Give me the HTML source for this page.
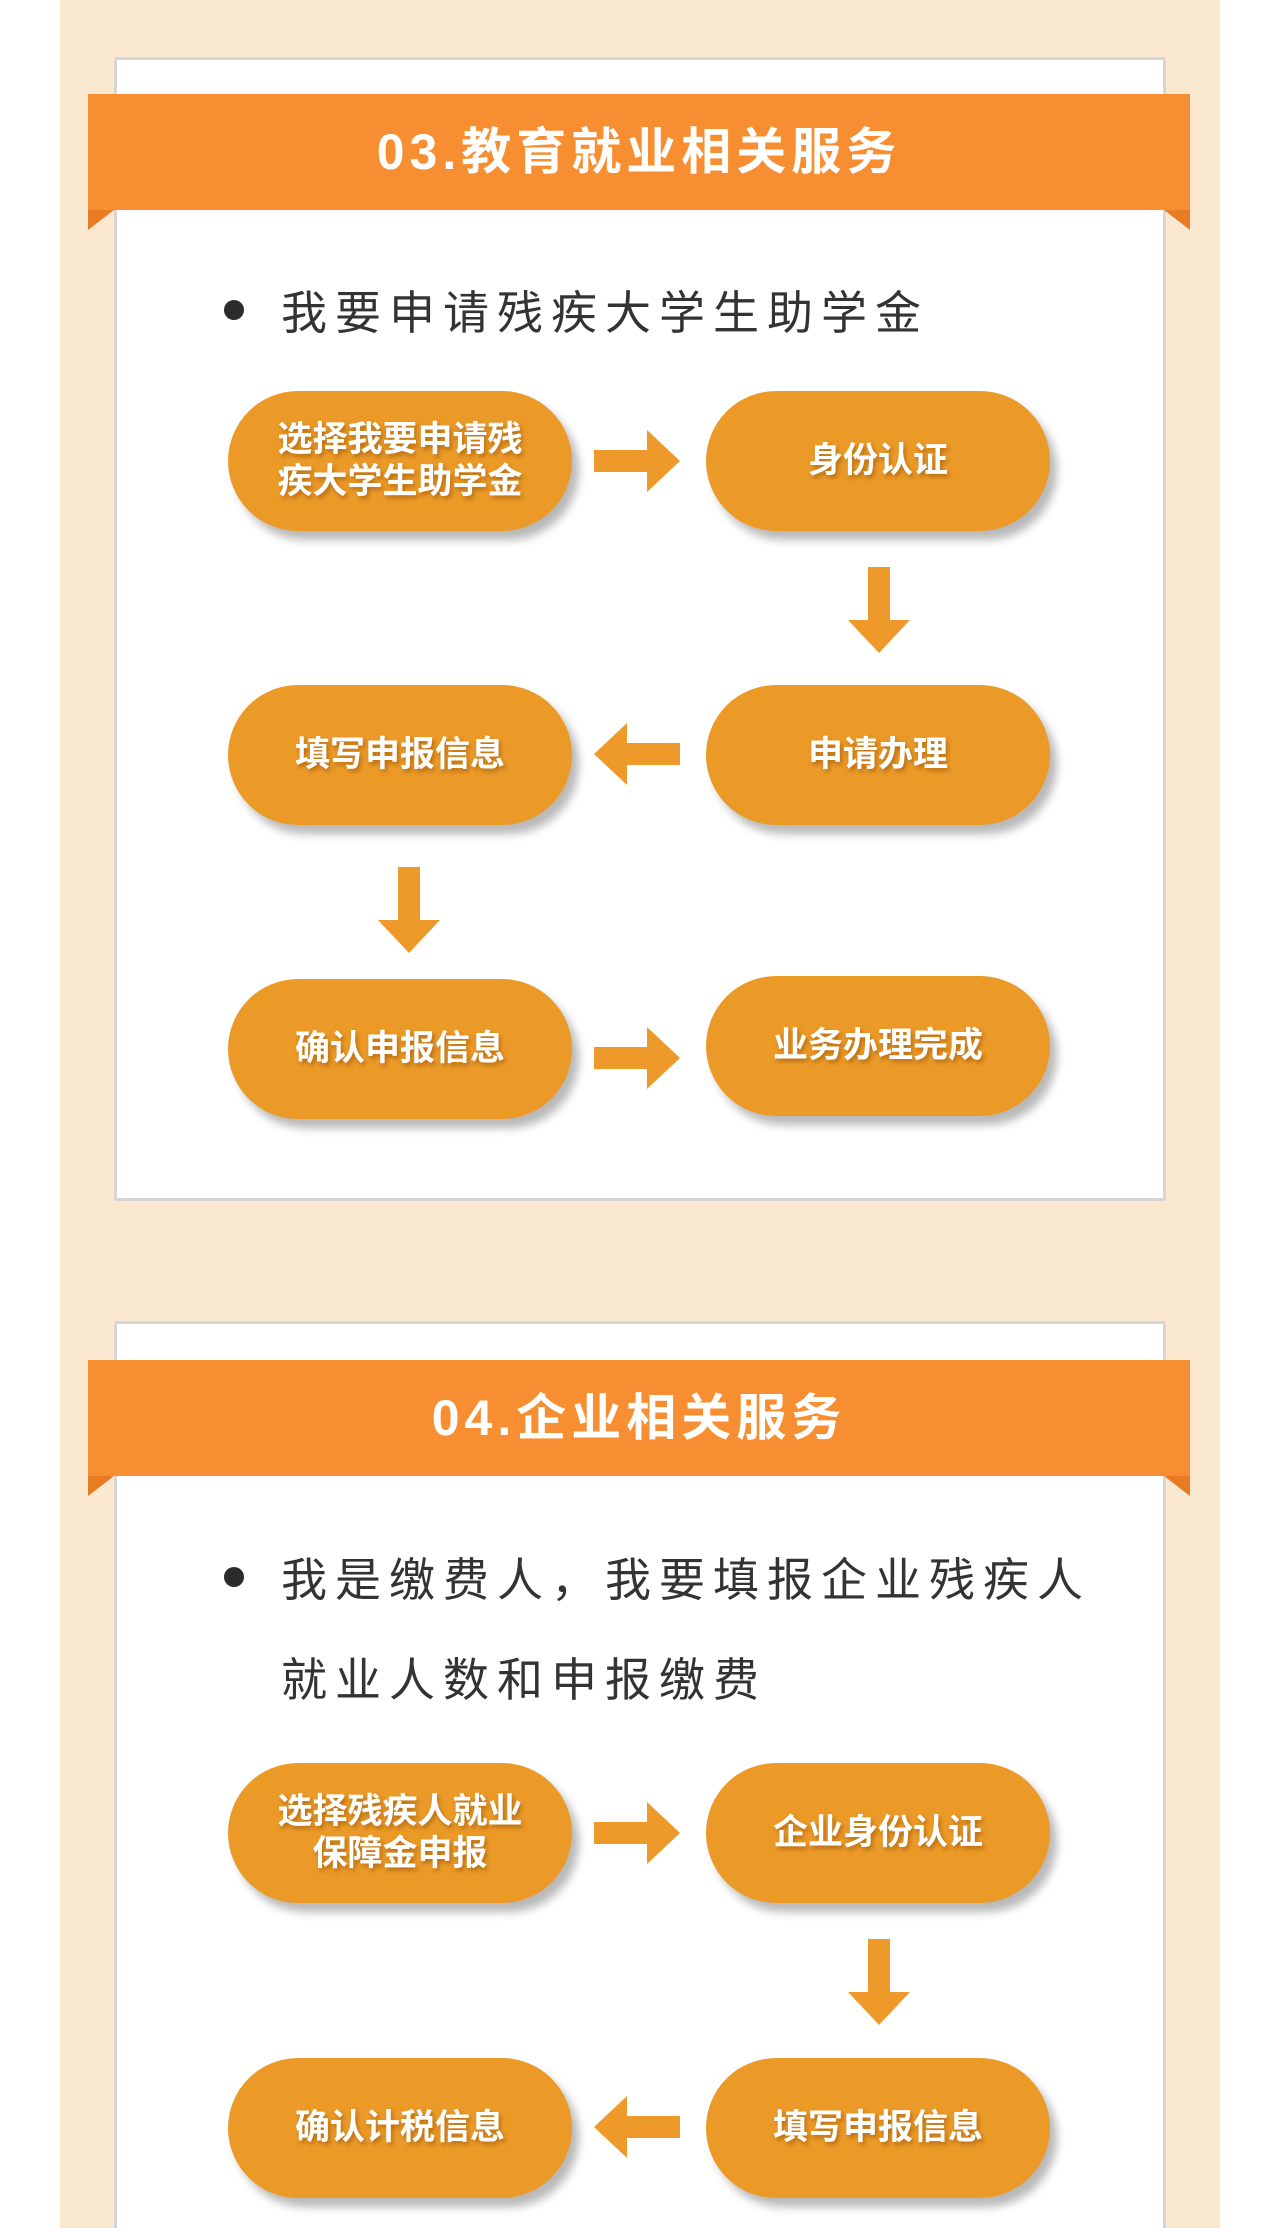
<!DOCTYPE html>
<html style="overflow:hidden;height:2228px"><head><meta charset="utf-8"><style>
*{margin:0;padding:0;box-sizing:border-box}
body{width:1280px;height:2228px;position:relative;background:#fff;overflow:hidden;font-family:"Liberation Sans","Noto Sans CJK SC",sans-serif}
.bg{position:absolute;left:60px;top:0;width:1160px;height:2228px;background:#fae9d0}
.card{position:absolute;left:114px;width:1052px;background:#fff;border:3px solid #d6d6d8}
.banner{position:absolute;left:88px;width:1102px;height:116px;background:#f78e32;color:#fff;font-weight:bold;font-size:50px;letter-spacing:5px;text-align:center;line-height:116px}
.tab{position:absolute;width:0;height:0;border-top:20px solid #e97c22}
.tl{left:88px;border right:26px solid transparent;border-right:26px solid transparent}
.tr{left:1164px;border-left:26px solid transparent}
.bul{position:absolute;left:224px;width:20px;height:20px;border-radius:50%;background:#2b2b2b}
.txt{position:absolute;left:281px;font-size:46px;color:#333;letter-spacing:8px;white-space:nowrap}
.node{position:absolute;width:344px;height:140px;border-radius:70px;background:#eb9a28;color:#fff;font-size:35px;font-weight:bold;display:flex;align-items:center;justify-content:center;text-align:center;line-height:42px;box-shadow:7px 9px 9px rgba(0,0,0,.28);text-shadow:2px 3px 4px rgba(150,80,0,.6)}
svg.a{position:absolute}
</style></head><body>
<div class="bg"></div>

<div class="card" style="top:57px;height:1144px"></div>
<div class="banner" style="top:94px">03.教育就业相关服务</div>
<div class="tab tl" style="top:210px"></div><div class="tab tr" style="top:210px"></div>
<div class="bul" style="top:300px"></div>
<div class="txt" style="top:277px">我要申请残疾大学生助学金</div>

<div class="node" style="left:228px;top:391px">选择我要申请残<br>疾大学生助学金</div>
<div class="node" style="left:706px;top:391px">身份认证</div>
<div class="node" style="left:706px;top:685px">申请办理</div>
<div class="node" style="left:228px;top:685px">填写申报信息</div>
<div class="node" style="left:228px;top:979px">确认申报信息</div>
<div class="node" style="left:706px;top:976px">业务办理完成</div>

<svg class="a" style="left:594px;top:430px" width="86" height="62"><polygon points="0,20 53,20 53,0 86,31 53,62 53,42 0,42" fill="#ee9a2a"/></svg>
<svg class="a" style="left:848px;top:567px" width="62" height="86"><polygon points="20,0 42,0 42,53 62,53 31,86 0,53 20,53" fill="#ee9a2a"/></svg>
<svg class="a" style="left:594px;top:723px" width="86" height="62"><polygon points="86,20 33,20 33,0 0,31 33,62 33,42 86,42" fill="#ee9a2a"/></svg>
<svg class="a" style="left:378px;top:867px" width="62" height="86"><polygon points="20,0 42,0 42,53 62,53 31,86 0,53 20,53" fill="#ee9a2a"/></svg>
<svg class="a" style="left:594px;top:1027px" width="86" height="62"><polygon points="0,20 53,20 53,0 86,31 53,62 53,42 0,42" fill="#ee9a2a"/></svg>

<div class="card" style="top:1321px;height:907px;border-bottom:none"></div>
<div class="banner" style="top:1360px">04.企业相关服务</div>
<div class="tab tl" style="top:1476px"></div><div class="tab tr" style="top:1476px"></div>
<div class="bul" style="top:1567px"></div>
<div class="txt" style="top:1544px">我是缴费人，我要填报企业残疾人</div>
<div class="txt" style="top:1644px">就业人数和申报缴费</div>

<div class="node" style="left:228px;top:1763px">选择残疾人就业<br>保障金申报</div>
<div class="node" style="left:706px;top:1763px">企业身份认证</div>
<div class="node" style="left:706px;top:2058px">填写申报信息</div>
<div class="node" style="left:228px;top:2058px">确认计税信息</div>

<svg class="a" style="left:594px;top:1802px" width="86" height="62"><polygon points="0,20 53,20 53,0 86,31 53,62 53,42 0,42" fill="#ee9a2a"/></svg>
<svg class="a" style="left:848px;top:1939px" width="62" height="86"><polygon points="20,0 42,0 42,53 62,53 31,86 0,53 20,53" fill="#ee9a2a"/></svg>
<svg class="a" style="left:594px;top:2096px" width="86" height="62"><polygon points="86,20 33,20 33,0 0,31 33,62 33,42 86,42" fill="#ee9a2a"/></svg>
</body></html>
